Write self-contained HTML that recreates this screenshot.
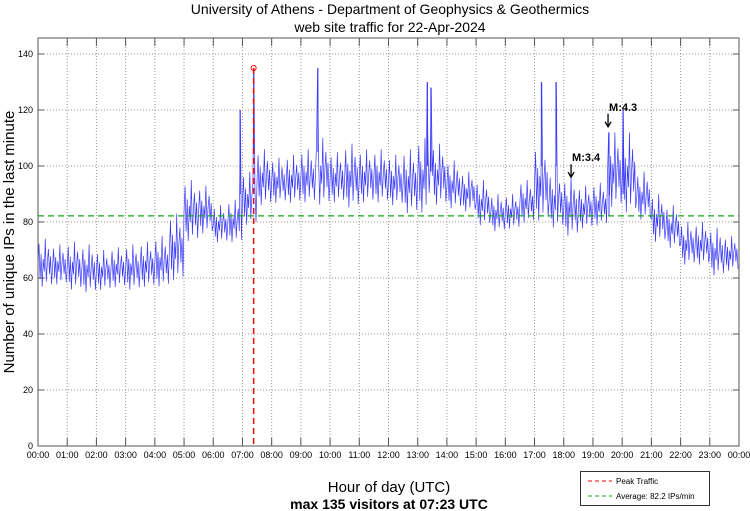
<!DOCTYPE html>
<html><head><meta charset="utf-8">
<style>
html,body{margin:0;padding:0;background:#fff;}
svg{display:block;font-family:"Liberation Sans",sans-serif;}
</style></head>
<body>
<svg id="chart" width="750" height="511" viewBox="0 0 750 511" xmlns="http://www.w3.org/2000/svg">
<text x="390" y="14" font-size="14" text-anchor="middle">University of Athens - Department of Geophysics &amp; Geothermics</text>
<text x="390" y="32" font-size="14" text-anchor="middle">web site traffic for 22-Apr-2024</text>
<g id="grid"></g>
<g id="series"></g>
<g id="axes"></g>
<text transform="translate(14,242) rotate(-90)" font-size="15" text-anchor="middle">Number of unique IPs in the last minute</text>
<text x="389" y="492" font-size="15" text-anchor="middle">Hour of day (UTC)</text>
<text x="389" y="509" font-size="14" font-weight="bold" text-anchor="middle">max 135 visitors at 07:23 UTC</text>
<g>
<rect x="580.5" y="471.5" width="129" height="34" fill="#fff" stroke="#333"/>
<line x1="588" y1="481" x2="612" y2="481" stroke="#f00" stroke-dasharray="4,3"/>
<text x="616" y="484" font-size="8">Peak Traffic</text>
<line x1="588" y1="496" x2="612" y2="496" stroke="#1a1" stroke-dasharray="4,3"/>
<text x="616" y="499" font-size="8">Average: 82.2 IPs/min</text>
</g>
</svg>
<script>
const binMinutes = [0,30,60,90,120,150,180,210,240,270,300,330,360,390,420,450,480,510,540,570,600,630,660,690,720,750,780,810,840,870,900,930,960,990,1020,1050,1080,1110,1140,1170,1200,1230,1260,1290,1320,1350,1380,1410];
const binLow  = [56,57,55,54,55,56,55,56,56,58,72,75,72,72,78,85,86,86,86,85,86,84,86,86,85,82,82,85,84,83,78,76,77,79,79,77,74,77,78,84,82,80,72,70,64,64,60,62];
const binHigh = [74,72,73,72,70,71,72,73,75,83,95,93,86,88,98,106,103,104,106,110,105,108,106,106,104,106,110,108,102,98,95,90,90,95,108,98,96,93,94,112,112,98,90,86,80,80,78,75];
const spikeMinutes = [415,443,575,800,807,1034,1064,1202,1173];
const spikeValues  = [120,135,135,130,128,130,130,120,112];
const peakMinute = 443, peakValue = 135, averageValue = 82.2;
const yTicks = [0,20,40,60,80,100,120,140];
const xTickLabels = ["00:00","01:00","02:00","03:00","04:00","05:00","06:00","07:00","08:00","09:00","10:00","11:00","12:00","13:00","14:00","15:00","16:00","17:00","18:00","19:00","20:00","21:00","22:00","23:00","00:00"];
const annotations = [{label:"M:3.4", minute:1095, value:96},{label:"M:4.3", minute:1171, value:114}];

const L=38,R=739,T=38,B=446;
const xs = m => L + m/1440*(R-L);
const ys = v => B - v*2.8;
const NS="http://www.w3.org/2000/svg";
function mk(tag, parent){const e=document.createElementNS(NS,tag);parent.appendChild(e);return e;}
const grid=document.getElementById('grid'), axes=document.getElementById('axes'), series=document.getElementById('series'), svg=document.getElementById('chart');

xTickLabels.forEach((lab,i)=>{
  const x=xs(i*60);
  if(i>0&&i<24){const g=mk('line',grid);
    
    
    g.setAttribute('x1',x);g.setAttribute('x2',x);g.setAttribute('y1',T);g.setAttribute('y2',B);g.setAttribute('stroke','#999');g.setAttribute('stroke-dasharray','1,2');
    [[B,B-8],[T,T+8]].forEach(p=>{const t=mk('line',axes);
      
      
      t.setAttribute('x1',x);t.setAttribute('x2',x);t.setAttribute('y1',p[0]);t.setAttribute('y2',p[1]);t.setAttribute('stroke','#555');});
  }
  const t=mk('text',axes);
  
  
  t.setAttribute('x',x);t.setAttribute('y',458);t.setAttribute('font-size','9');t.setAttribute('text-anchor','middle');t.textContent=lab;
});
yTicks.forEach(v=>{
  const y=ys(v);
  if(v>0){const g=mk('line',grid);
    
    
    g.setAttribute('x1',L);g.setAttribute('x2',R);g.setAttribute('y1',y);g.setAttribute('y2',y);g.setAttribute('stroke','#999');g.setAttribute('stroke-dasharray','1,2');
    [[L,L+6],[R,R-6]].forEach(p=>{const t=mk('line',axes);
      
      
      t.setAttribute('x1',p[0]);t.setAttribute('x2',p[1]);t.setAttribute('y1',y);t.setAttribute('y2',y);t.setAttribute('stroke','#555');});
  }
  const t=mk('text',axes);
  
  
  t.setAttribute('x',33);t.setAttribute('y',y+3);t.setAttribute('font-size','9');t.setAttribute('text-anchor','end');t.textContent=v;
});
const frame=mk('rect',axes);


frame.setAttribute('x',L);frame.setAttribute('y',T);frame.setAttribute('width',R-L);frame.setAttribute('height',B-T);frame.setAttribute('fill','none');frame.setAttribute('stroke','#555');

// noisy trace from bin lows/highs (fixed jitter pattern is styling only)
const pat=[0.5,0.9,0.2,0.7,0.05,0.6,0.35,1,0.15,0.55,0.8,0.3,0.65,0.1,0.45,0.85];
let pts=[];
binMinutes.forEach((m,i)=>{
  const n=14;
  for(let k=0;k<n;k++){
    const mm=m+k*30/n;
    let v=binLow[i]+(binHigh[i]-binLow[i])*pat[k];
    spikeMinutes.forEach((sm,j)=>{ if(Math.abs(sm-mm)<1.1) v=spikeValues[j]; });
    pts.push(xs(mm).toFixed(1)+','+ys(v).toFixed(1));
  }
});
const pl=mk('polyline',series);


pl.setAttribute('points',pts.join(' '));pl.setAttribute('fill','none');pl.setAttribute('stroke','#3a3aff');pl.setAttribute('stroke-width','0.7');
spikeMinutes.forEach((sm,j)=>{const s=mk('line',series);
  
  
  s.setAttribute('x1',xs(sm));s.setAttribute('x2',xs(sm));s.setAttribute('y1',ys(spikeValues[j]));s.setAttribute('y2',ys(spikeValues[j]-30));s.setAttribute('stroke','#3a3aff');s.setAttribute('stroke-width','1');});

const avg=mk('line',series);


avg.setAttribute('x1',L);avg.setAttribute('x2',R);avg.setAttribute('y1',ys(averageValue));avg.setAttribute('y2',ys(averageValue));avg.setAttribute('stroke','#1a1');avg.setAttribute('stroke-dasharray','6,4');avg.setAttribute('stroke-width','1.2');
const pk=mk('line',series);


pk.setAttribute('x1',xs(peakMinute));pk.setAttribute('x2',xs(peakMinute));pk.setAttribute('y1',ys(peakValue));pk.setAttribute('y2',B);pk.setAttribute('stroke','#f00');pk.setAttribute('stroke-dasharray','6,4');pk.setAttribute('stroke-width','1.5');
const pc=mk('circle',series);


pc.setAttribute('cx',xs(peakMinute));pc.setAttribute('cy',ys(peakValue));pc.setAttribute('r','2.5');pc.setAttribute('fill','none');pc.setAttribute('stroke','#f00');

annotations.forEach(a=>{
  const x=xs(a.minute), y=ys(a.value);
  const t=mk('text',svg);
  
  
  t.setAttribute('x',x+1);t.setAttribute('y',y-16);t.setAttribute('font-size','11');t.setAttribute('font-weight','bold');t.textContent=a.label;
  const ar=mk('path',svg);
  
  
  ar.setAttribute('d','M'+x+','+(y-13)+' L'+x+','+y+' M'+(x-3)+','+(y-5)+' L'+x+','+y+' L'+(x+3)+','+(y-5));
  ar.setAttribute('stroke','#000');ar.setAttribute('stroke-width','1.3');ar.setAttribute('fill','none');
});
</script>
</body></html>
